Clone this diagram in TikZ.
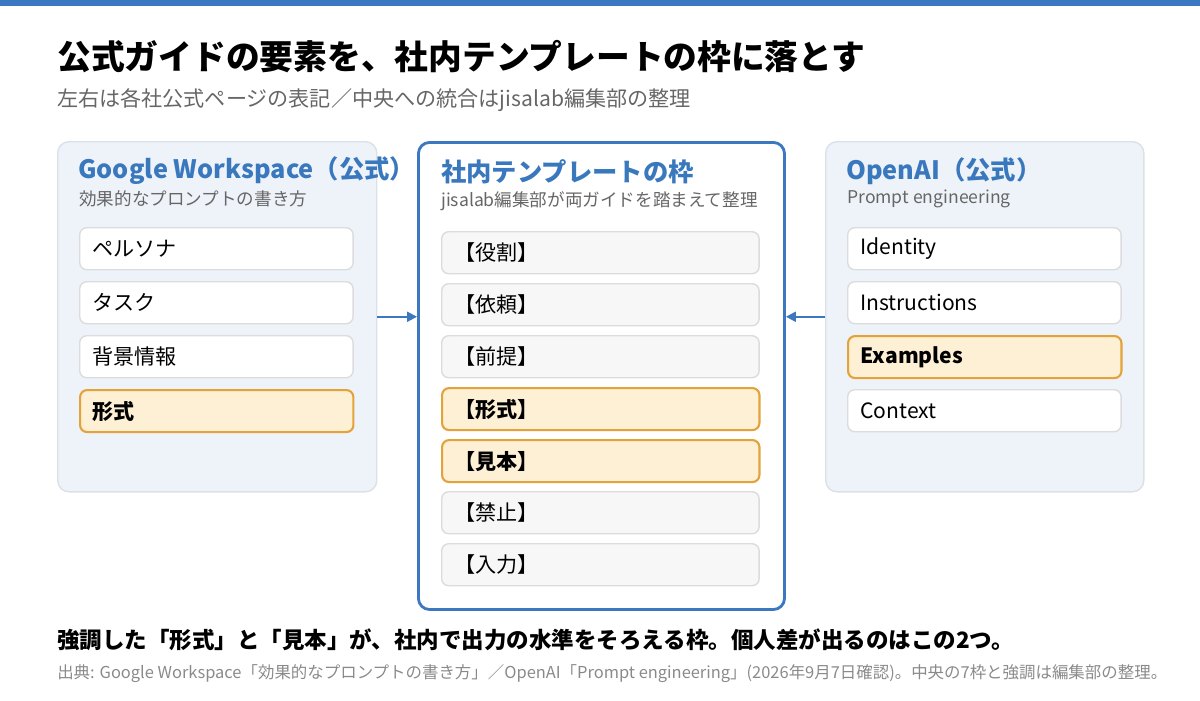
\documentclass[tikz,border=0pt]{standalone}
\usepackage{fontspec}
\setmainfont{Noto Sans CJK JP}
\usetikzlibrary{arrows.meta, positioning}
\definecolor{barblue}{HTML}{3B78C0}
\definecolor{headblue}{HTML}{3A78BE}
\definecolor{panelfill}{HTML}{EEF3FA}
\definecolor{panelline}{HTML}{DCE1E8}
\definecolor{itemline}{HTML}{DCDCDC}
\definecolor{hlfill}{HTML}{FDF0D5}
\definecolor{hlline}{HTML}{E3A23A}
\definecolor{subgray}{HTML}{666666}
\definecolor{srcgray}{HTML}{8A8A8A}
\tikzset{
    panel/.style={draw=panelline, line width=1pt, fill=panelfill, rounded corners=8pt, anchor=north west, inner sep=0pt},
    head/.style={anchor=west, inner sep=0pt, text=headblue, font=\fontsize{18}{21}\selectfont\bfseries},
    sub/.style={anchor=west, inner sep=0pt, text=subgray, font=\fontsize{12.5}{15}\selectfont},
    item/.style={draw=itemline, line width=1pt, fill=white, rounded corners=5pt, anchor=north west,
        minimum height=1.05cm, inner xsep=9pt, align=left, text width=#1, font=\fontsize{15}{18}\selectfont},
    item/.default=6.2cm,
    plain/.style={fill=black!3},
    hl/.style={draw=hlline, fill=hlfill, line width=1.5pt, font=\fontsize{15}{18}\selectfont\bfseries},
    link/.style={draw=barblue, line width=1.5pt, -{Triangle[length=7pt,width=7pt]}},
}
\begin{document}
\begin{tikzpicture}[x=0.025cm, y=-0.025cm]
    \useasboundingbox (0,0) rectangle (1200,700);
    \fill[barblue] (0,0) rectangle (1200,6);

    % title and lead
    \node[anchor=west, inner sep=0pt, font=\fontsize{24}{28}\selectfont\bfseries] (title) at (57,57) {公式ガイドの要素を、社内テンプレートの枠に落とす};
    \node[anchor=west, inner sep=0pt, text=subgray, font=\fontsize{15}{18}\selectfont] (lead) at (57,100) {左右は各社公式ページの表記／中央への統合はjisalab編集部の整理};

    % left panel
    \node[panel, minimum width=7.975cm, minimum height=8.75cm] (gw) at (57,141) {};
    \node[head] (gwhead) at (78,171) {Google Workspace（公式）};
    \node[sub] (gwsub) at (79,199) {効果的なプロンプトの書き方};
    \foreach \t/\s [count=\i] in {ペルソナ/item, タスク/item, 背景情報/item, 形式/hl}
        \node[item, \s] (gw\i) at (79,227+54*\i-54) {\t};

    % centre panel
    \node[panel, draw=barblue, line width=2pt, fill=white, minimum width=9.15cm, minimum height=11.675cm] (tpl) at (417,141) {};
    \node[head] (tplhead) at (441,172) {社内テンプレートの枠};
    \node[sub] (tplsub) at (441,201) {jisalab編集部が両ガイドを踏まえて整理};
    \foreach \t/\s [count=\i] in {【役割】/plain, 【依頼】/plain, 【前提】/plain, 【形式】/hl, 【見本】/hl, 【禁止】/plain, 【入力】/plain}
        \node[item=7.3cm, \s] (tpl\i) at (441,231+52*\i-52) {\t};

    % right panel
    \node[panel, minimum width=7.95cm, minimum height=8.75cm] (oa) at (825,141) {};
    \node[head] (oahead) at (846,171) {OpenAI（公式）};
    \node[sub] (oasub) at (847,199) {Prompt engineering};
    \foreach \t/\s [count=\i] in {Identity/item, Instructions/item, Examples/hl, Context/item}
        \node[item, \s] (oa\i) at (847,227+54*\i-54) {\t};

    % arrows into the frame
    \draw[link] (gw.east) -- (gw.east -| tpl.west);
    \draw[link] (oa.west) -- (oa.west -| tpl.east);

    % notes
    \node[anchor=west, inner sep=0pt, font=\fontsize{16}{19}\selectfont\bfseries] (note) at (57,640) {強調した「形式」と「見本」が、社内で出力の水準をそろえる枠。個人差が出るのはこの2つ。};
    \node[anchor=west, inner sep=0pt, text=srcgray, font=\fontsize{11.7}{14}\selectfont] (src) at (57,674) {出典: Google Workspace「効果的なプロンプトの書き方」／OpenAI「Prompt engineering」(2026年9月7日確認)。中央の7枠と強調は編集部の整理。};
\end{tikzpicture}
\end{document}
